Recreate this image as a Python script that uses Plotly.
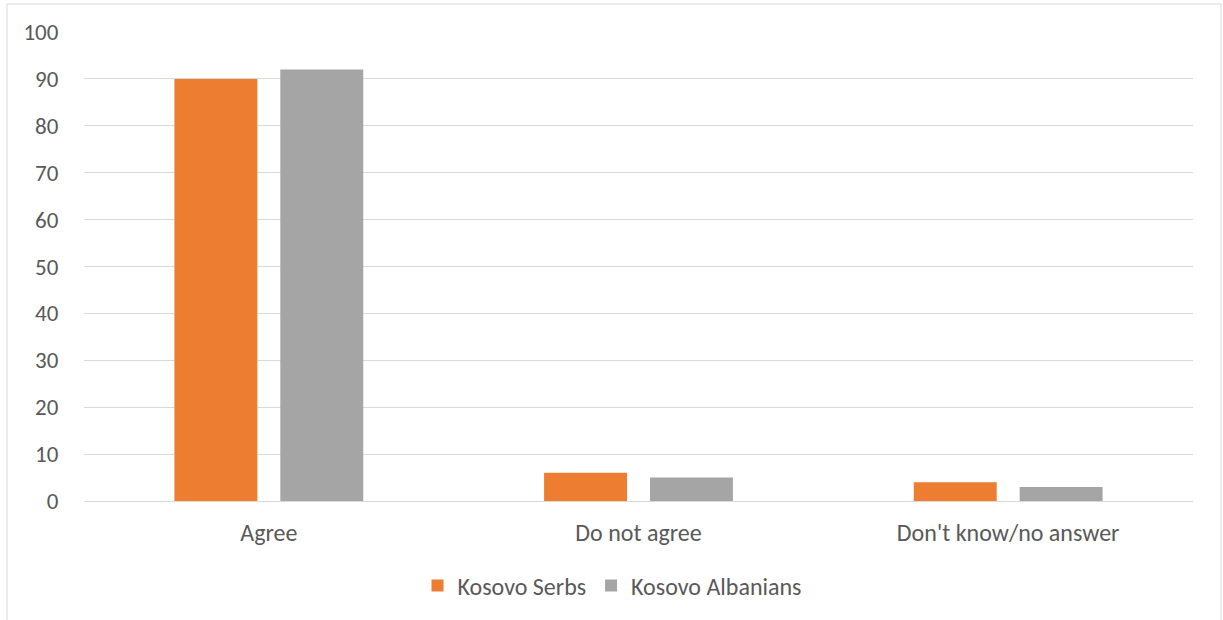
import plotly.graph_objects as go

categories = ["Agree", "Do not agree", "Don't know/no answer"]
serbs = [90, 6, 4]
albanians = [92, 5, 3]
y_ticks = [0, 10, 20, 30, 40, 50, 60, 70, 80, 90, 100]

FONT = "Carlito, Calibri, Lato, sans-serif"
TXT = "#595959"

fig = go.Figure()
fig.add_trace(go.Bar(name="Kosovo Serbs", x=categories, y=serbs,
                     marker=dict(color="#ED7D31", line=dict(width=0))))
fig.add_trace(go.Bar(name="Kosovo Albanians", x=categories, y=albanians,
                     marker=dict(color="#A5A5A5", line=dict(width=0))))

W, H = 1223, 620
ml, mr, mt, mb = 84, 30, 32, 119
pw = W - ml - mr
ph = H - mt - mb

fig.update_layout(
    width=W, height=H,
    margin=dict(l=ml, r=mr, t=mt, b=mb, pad=0),
    paper_bgcolor="white", plot_bgcolor="white",
    barmode="group", bargap=0.427, bargroupgap=0.217,
    font=dict(family=FONT, size=24, color=TXT),
    showlegend=True,
    legend=dict(orientation="h", x=(612 - ml) / pw, xanchor="center",
                y=(ph + mt - 586) / ph, yanchor="middle",
                font=dict(family=FONT, size=24, color=TXT),
                itemwidth=30, tracegroupgap=0),
    xaxis=dict(showgrid=False, showline=False, ticks="outside", ticklen=10,
               tickcolor="rgba(0,0,0,0)", tickfont=dict(family=FONT, size=24, color=TXT)),
    yaxis=dict(range=[0, 100], tickvals=y_ticks, showgrid=True, gridcolor="#D9D9D9",
               gridwidth=1, zeroline=True, zerolinecolor="#D9D9D9", zerolinewidth=1,
               showline=False, ticks="outside", ticklen=20, tickcolor="rgba(0,0,0,0)",
               tickfont=dict(family=FONT, size=23, color=TXT)),
    shapes=[dict(type="rect", xref="paper", yref="paper",
                 x0=(7 - ml) / pw, x1=(1221 - ml) / pw,
                 y0=(ph + mt - 640) / ph, y1=(ph + mt - 4) / ph,
                 line=dict(color="#D9D9D9", width=1), fillcolor="rgba(0,0,0,0)",
                 layer="below")],
)

fig.write_html("out.html")
